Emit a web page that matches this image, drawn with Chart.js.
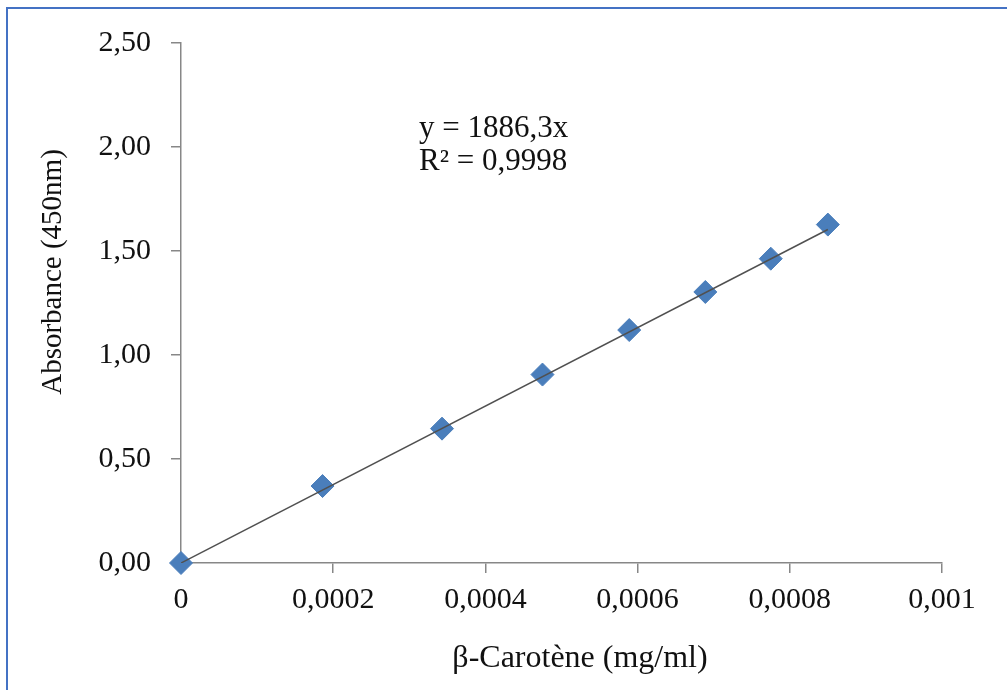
<!DOCTYPE html>
<html>
<head>
<meta charset="utf-8">
<script src="https://cdn.jsdelivr.net/npm/chart.js@4"></script>
<style>
  html, body { margin: 0; padding: 0; background: #fff; }
  #wrap { position: relative; width: 1007px; height: 690px; overflow: hidden; }
  #cadre { position: absolute; left: 6px; top: 7px; right: -4px; bottom: -4px;
           border-top: 2px solid #4472c4; border-left: 2px solid #4472c4; }
  canvas { position: absolute; left: 0; top: 0; }
</style>
</head>
<body>
<div id="wrap">
  <canvas id="graficoEtalon" width="1007" height="690"></canvas>
  <div id="cadre"></div>
</div>
<script>
// Courbe d'étalonnage du β-carotène
const concentrations = [0, 0.000186, 0.000343, 0.000475, 0.000589, 0.000689, 0.000775, 0.00085];
const absorbances = [0, 0.370, 0.646, 0.906, 1.120, 1.303, 1.463, 1.627];
const pente = 1886.3;
const r2 = "0,9998";
const xTicks = [0, 0.0002, 0.0004, 0.0006, 0.0008, 0.001];
const yTicks = [0, 0.5, 1.0, 1.5, 2.0, 2.5];
const titreX = 'β-Carotène (mg/ml)';
const titreY = 'Absorbance (450nm)';

const police = "'Liberation Serif', 'Times New Roman', serif";
const gris = '#878787';
const encre = '#111';

// droite de tendance y = pente * x, de 0 au dernier point
const xMax = Math.max(...concentrations);
const tendance = [{ x: 0, y: 0 }, { x: xMax, y: pente * xMax }];
const points = concentrations.map((c, i) => ({ x: c, y: absorbances[i] }));

function virgule(v, dec) {
  return (dec === undefined ? String(Number(v.toFixed(6))) : v.toFixed(dec)).replace('.', ',');
}

// titres des axes et équation de la droite
const textes = {
  id: 'textes',
  afterDatasetsDraw(chart) {
    const { ctx } = chart;
    ctx.save();
    ctx.fillStyle = encre;
    ctx.textBaseline = 'middle';

    ctx.textAlign = 'left';
    ctx.font = "31px " + police;
    ctx.fillText('y = ' + virgule(pente) + 'x', 419, 129);
    ctx.fillText('R² = ' + r2, 419, 162);

    ctx.textAlign = 'center';
    ctx.font = "32px " + police;
    ctx.fillText(titreX, 580, 659);

    ctx.font = "29px " + police;
    ctx.translate(53, 272);
    ctx.rotate(-Math.PI / 2);
    ctx.fillText(titreY, 0, 0);
    ctx.restore();
  }
};

const ctx = document.getElementById('graficoEtalon').getContext('2d');
new Chart(ctx, {
  type: 'scatter',
  data: {
    datasets: [
      {
        label: 'Tendance',
        data: tendance,
        showLine: true,
        borderColor: '#505050',
        borderWidth: 1.5,
        pointRadius: 0,
        fill: false
      },
      {
        label: 'β-Carotène',
        data: points,
        clip: false,
        pointStyle: 'rectRot',
        pointRadius: 11.5,
        pointBackgroundColor: '#4a7ebb',
        pointBorderColor: '#4a7ebb',
        pointBorderWidth: 1
      }
    ]
  },
  options: {
    responsive: false,
    animation: false,
    layout: { padding: { top: 43, right: 65, left: 0, bottom: 0 } },
    plugins: { legend: { display: false }, tooltip: { enabled: false } },
    scales: {
      x: {
        type: 'linear',
        min: 0,
        max: 0.001,
        afterBuildTicks: s => { s.ticks = xTicks.map(v => ({ value: v })); },
        afterFit: s => { s.height = 127; },
        ticks: {
          color: encre,
          font: { family: police, size: 30 },
          padding: 9,
          maxRotation: 0,
          callback: v => virgule(v)
        },
        grid: { display: true, drawOnChartArea: false, drawTicks: true, tickLength: 10, color: gris, lineWidth: 1.5 },
        border: { display: true, color: gris, width: 1.5 }
      },
      y: {
        type: 'linear',
        min: 0,
        max: 2.5,
        afterBuildTicks: s => { s.ticks = yTicks.map(v => ({ value: v })); },
        afterFit: s => { s.width = 181; },
        ticks: {
          color: encre,
          font: { family: police, size: 30 },
          padding: 20,
          callback: v => virgule(v, 2)
        },
        grid: { display: true, drawOnChartArea: false, drawTicks: true, tickLength: 10, color: gris, lineWidth: 1.5 },
        border: { display: true, color: gris, width: 1.5 }
      }
    }
  },
  plugins: [textes]
});
</script>
</body>
</html>
